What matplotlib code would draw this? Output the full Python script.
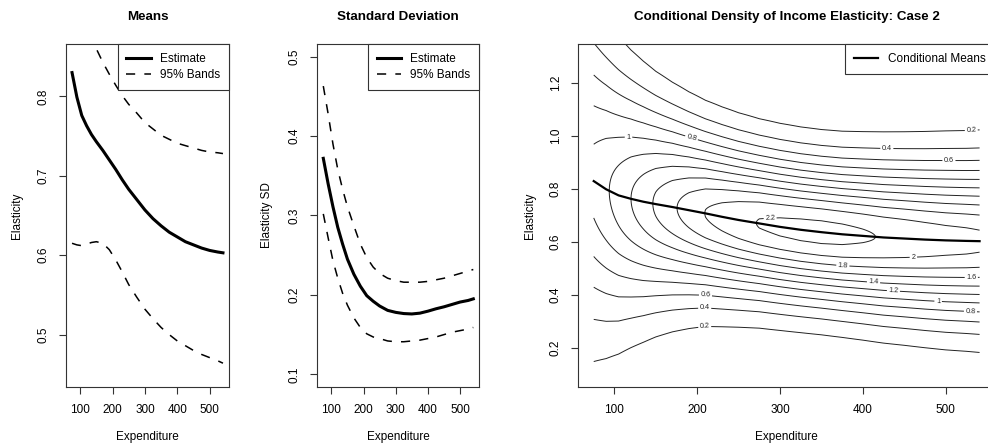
import numpy as np
import matplotlib.pyplot as plt
from matplotlib.lines import Line2D

plt.rcParams['font.family'] = ['Liberation Sans', 'DejaVu Sans']

# expenditure grid and estimated elasticity curves
expenditure = [75, 90, 105, 120, 135, 150, 170, 190, 210, 230, 250, 275, 300,
               325, 350, 375, 400, 425, 450, 475, 500, 525, 541]
mean_est = [0.830, 0.799, 0.776, 0.763, 0.752, 0.743, 0.732, 0.720, 0.708, 0.695,
            0.683, 0.670, 0.657, 0.646, 0.637, 0.629, 0.623, 0.617, 0.613, 0.609,
            0.606, 0.604, 0.603]
mean_upper = [np.nan, np.nan, np.nan, np.nan, 0.880, 0.860, 0.843, 0.828, 0.814, 0.801,
              0.790, 0.779, 0.767, 0.759, 0.751, 0.746, 0.741, 0.738, 0.735, 0.732,
              0.730, 0.729, 0.728]
mean_lower = [0.615, 0.613, 0.612, 0.614, 0.616, 0.617, 0.615, 0.607, 0.594, 0.579,
              0.563, 0.547, 0.532, 0.520, 0.509, 0.500, 0.492, 0.486, 0.480, 0.475,
              0.471, 0.467, 0.464]
sd_est = [0.372, 0.340, 0.311, 0.285, 0.264, 0.245, 0.226, 0.211, 0.199, 0.192,
          0.186, 0.1805, 0.178, 0.1765, 0.176, 0.177, 0.1795, 0.1825, 0.185, 0.188,
          0.191, 0.193, 0.195]
sd_upper = [0.463, 0.428, 0.390, 0.358, 0.333, 0.311, 0.287, 0.264, 0.247, 0.235,
            0.227, 0.221, 0.218, 0.216, 0.216, 0.216, 0.217, 0.219, 0.221, 0.224,
            0.227, 0.230, 0.232]
sd_lower = [0.302, 0.272, 0.243, 0.221, 0.202, 0.187, 0.171, 0.159, 0.151, 0.147,
            0.145, 0.142, 0.141, 0.141, 0.142, 0.143, 0.145, 0.147, 0.150, 0.153,
            0.155, 0.157, 0.159]

density_levels = [0.2, 0.4, 0.6, 0.8, 1.0, 1.2, 1.4, 1.6, 1.8, 2.0, 2.2]
# where the contour labels sit (expenditure, elasticity)
label_spots = [(117, 0.996), (193, 0.992), (531, 1.022), (429, 0.957), (504, 0.91),
               (288, 0.696), (461, 0.547), (376, 0.522), (531, 0.469), (413, 0.453),
               (437, 0.421), (491, 0.378), (530, 0.339), (210, 0.402), (209, 0.353),
               (209, 0.282)]

x = np.array(expenditure)
FS = 8.5
DASH = (0, (6, 6))


def padded(lo, hi):
    d = 0.04 * (hi - lo)
    return lo - d, hi + d


def r_axes(ax, yticks, ylabels=None):
    for s in ax.spines.values():
        s.set_linewidth(0.8)
        s.set_color('#333333')
    ax.set_xlim(*padded(x.min(), x.max()))
    ax.set_xticks([100, 200, 300, 400, 500])
    ax.set_yticks(yticks)
    if ylabels is not None:
        ax.set_yticklabels(ylabels)
    ax.tick_params(direction='out', length=5, width=0.8, color='#333333',
                   labelsize=FS, pad=7)
    ax.tick_params(axis='y', labelrotation=90)
    for lbl in ax.get_yticklabels():
        lbl.set_va('center')


def titles(ax, title, ylab, yl_x):
    ax.text(0.5, 1.079, title, transform=ax.transAxes, ha='center', va='center',
            fontsize=9.6, fontweight='bold')
    ax.set_xlabel('Expenditure', fontsize=FS, va='center')
    ax.xaxis.set_label_coords(0.5, -0.146)
    ax.set_ylabel(ylab, fontsize=FS, va='center', ha='center')
    ax.yaxis.set_label_coords(yl_x, 0.5)


def band_legend(ax):
    handles = [Line2D([], [], color='black', lw=2.2),
               Line2D([], [], color='black', lw=1.1, linestyle=DASH)]
    leg = ax.legend(handles, ['Estimate', '95% Bands'], loc='upper right',
                    borderaxespad=0, fancybox=False, framealpha=1,
                    edgecolor='#333333', fontsize=FS, handlelength=2.1,
                    handletextpad=0.75, labelspacing=0.35, borderpad=0.75)
    leg.get_frame().set_linewidth(0.8)


fig = plt.figure(figsize=(9.88, 4.47), dpi=100)
bottom, height = 1 - 387 / 447, (387 - 44) / 447

# means
ax1 = fig.add_axes([66 / 988, bottom, 163 / 988, height])
ax1.plot(x, mean_est, color='black', lw=2.2)
ax1.plot(x, mean_upper, color='black', lw=1.1, linestyle=DASH)
ax1.plot(x, mean_lower, color='black', lw=1.1, linestyle=DASH)
ax1.set_ylim(*padded(0.45, 0.85))
r_axes(ax1, [0.5, 0.6, 0.7, 0.8])
titles(ax1, 'Means', 'Elasticity', -0.30)
band_legend(ax1)

# standard deviation
ax2 = fig.add_axes([317.3 / 988, bottom, 162 / 988, height])
ax2.plot(x, sd_est, color='black', lw=2.2)
ax2.plot(x, sd_upper, color='black', lw=1.1, linestyle=DASH)
ax2.plot(x, sd_lower, color='black', lw=1.1, linestyle=DASH)
ax2.set_ylim(*padded(0.1, 0.5))
r_axes(ax2, [0.1, 0.2, 0.3, 0.4, 0.5])
titles(ax2, 'Standard Deviation', 'Elasticity SD', -0.312)
band_legend(ax2)

# conditional normal density built from the mean and sd curves
ax3 = fig.add_axes([578.3 / 988, bottom, (995 - 578.3) / 988, height])
ygrid = np.linspace(0.0, 1.4, 561)
m = np.array(mean_est)
s = np.array(sd_est)
Z = np.exp(-0.5 * ((ygrid[:, None] - m[None, :]) / s[None, :]) ** 2) / (s[None, :] * np.sqrt(2 * np.pi))
cs = ax3.contour(x, ygrid, Z, levels=density_levels, colors='#222222', linewidths=0.7)
ax3.clabel(cs, fmt=lambda v: f'{v:g}', fontsize=5.2, inline=True, inline_spacing=2,
           manual=label_spots)
ax3.plot(x, mean_est, color='black', lw=1.6)
ax3.set_ylim(*padded(0.1, 1.3))
r_axes(ax3, [0.2, 0.4, 0.6, 0.8, 1.0, 1.2], ['0.2', '0.4', '0.6', '0.8', '1.0', '1.2'])
titles(ax3, 'Conditional Density of Income Elasticity: Case 2', 'Elasticity', -0.116)
leg = ax3.legend([Line2D([], [], color='black', lw=1.6)], ['Conditional Means'],
                 loc='upper right', borderaxespad=0, fancybox=False, framealpha=1,
                 edgecolor='#333333', fontsize=FS, handlelength=2.0,
                 handletextpad=0.9, borderpad=0.75)
leg.get_frame().set_linewidth(0.8)

fig.savefig('out.png', dpi=100)
